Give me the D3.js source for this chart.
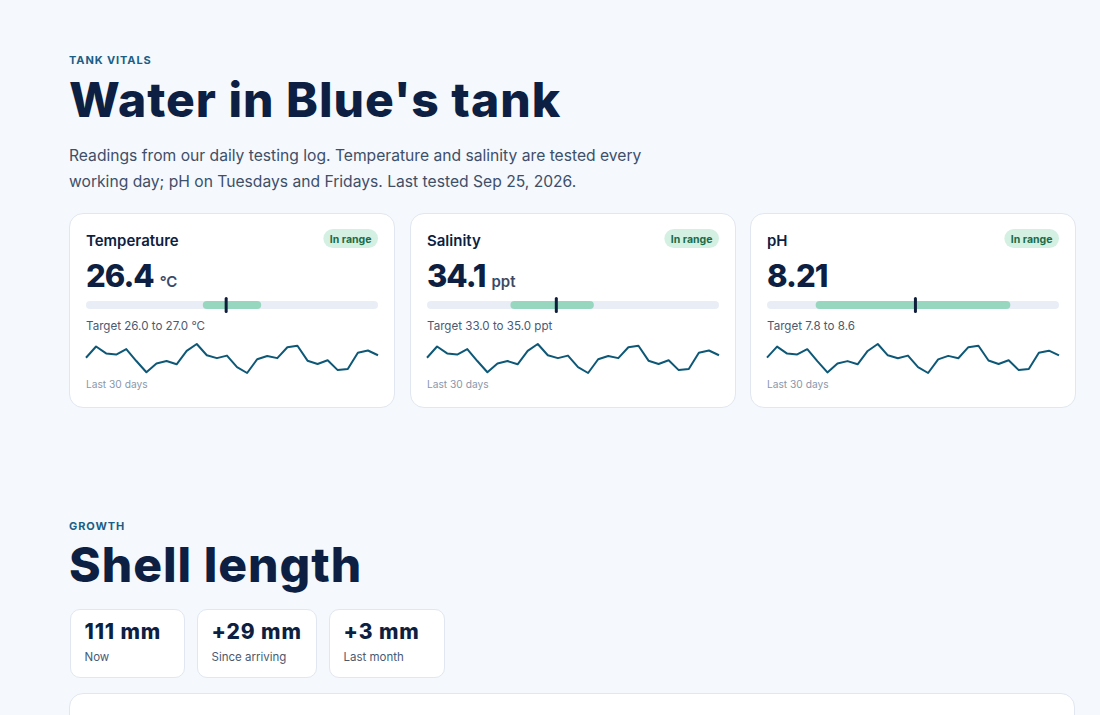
<!DOCTYPE html>
<html>
<head>
<meta charset="utf-8">
<script src="https://cdn.jsdelivr.net/npm/d3@7"></script>
<style>
  body { margin: 0; background: #f5f8fc; font-family: Inter, sans-serif; color: #0d1f42; }
  #page { position: relative; width: 1100px; height: 715px; overflow: hidden; }
  .eyebrow { position: absolute; left: 69px; font-size: 11px; font-weight: 700; letter-spacing: 0.9px; color: #1b5e85; }
  .title { position: absolute; left: 69px; font-size: 48px; font-weight: 800; letter-spacing: 1px; color: #0d1f42; white-space: nowrap; }
  .lede { position: absolute; left: 69px; top: 143px; width: 600px; font-size: 15.65px; line-height: 25.5px; color: #3e4f69; }
  .card { position: absolute; background: #fff; border: 1px solid #e1e7f0; border-radius: 14px; box-sizing: border-box; }
  .card svg { position: absolute; left: -1px; top: -1px; overflow: visible; }
  .stat { position: absolute; background: #fff; border: 1px solid #e1e7f0; border-radius: 10px; box-sizing: border-box; }
  .stat .v { position: absolute; left: 14px; top: 9px; font-size: 21px; font-weight: 800; letter-spacing: 0.9px; white-space: nowrap; }
  .stat .l { position: absolute; left: 14px; top: 40px; font-size: 11.5px; color: #4a5a72; white-space: nowrap; }
</style>
</head>
<body>
<div id="page"></div>
<script>
// vitals
const metrics = ['Temperature', 'Salinity', 'pH']
const units = ['°C', 'ppt', '']
const current = [26.4, 34.1, 8.21]
const decimals = [1, 1, 2]
const targetLow = [26.0, 33.0, 7.8]
const targetHigh = [27.0, 35.0, 8.6]
const scaleMin = [24, 31, 7.6]
const scaleMax = [29, 38, 8.8]
const status = ['In range', 'In range', 'In range']

// last 30 days of readings
const tempLog = [26.32, 26.63, 26.44, 26.41, 26.56, 26.23, 25.92, 26.16, 26.23, 26.14,
  26.51, 26.70, 26.39, 26.31, 26.38, 26.06, 25.90, 26.28, 26.37, 26.31,
  26.61, 26.65, 26.24, 26.15, 26.25, 25.98, 26.01, 26.46, 26.52, 26.39]
const salinityLog = [34.02, 34.33, 34.14, 34.11, 34.26, 33.93, 33.62, 33.86, 33.93, 33.84,
  34.21, 34.40, 34.09, 34.01, 34.08, 33.76, 33.60, 33.98, 34.07, 34.01,
  34.31, 34.35, 33.94, 33.85, 33.95, 33.68, 33.71, 34.16, 34.22, 34.09]
const phLog = [8.196, 8.272, 8.224, 8.218, 8.254, 8.172, 8.094, 8.156, 8.172, 8.150,
  8.242, 8.290, 8.212, 8.192, 8.210, 8.130, 8.090, 8.184, 8.208, 8.192,
  8.268, 8.278, 8.176, 8.152, 8.178, 8.110, 8.118, 8.230, 8.244, 8.212]
const logs = [tempLog, salinityLog, phLog]

// growth
const growthValues = ['111 mm', '+29 mm', '+3 mm']
const growthLabels = ['Now', 'Since arriving', 'Last month']

const page = d3.select('#page')

page.append('div').attr('class', 'eyebrow').style('top', '53px').text('TANK VITALS')
page.append('div').attr('class', 'title').style('top', '70px').text("Water in Blue's tank")
page.append('div').attr('class', 'lede')
  .text('Readings from our daily testing log. Temperature and salinity are tested every working day; pH on Tuesdays and Fridays. Last tested Sep 25, 2026.')

// card geometry
const cardW = 326, cardH = 195, cardGap = 14.5, pad = 17
const innerW = cardW - pad * 2

metrics.forEach((name, i) => {
  const card = page.append('div')
    .attr('class', 'card')
    .style('left', `${69 + i * (cardW + cardGap)}px`)
    .style('top', '212.5px')
    .style('width', `${cardW}px`)
    .style('height', `${cardH}px`)

  const svg = card.append('svg')
    .attr('width', cardW)
    .attr('height', cardH)

  svg.append('text')
    .attr('x', pad).attr('y', 32.5)
    .attr('font-size', 15).attr('font-weight', 600).attr('fill', '#0d1f42')
    .text(name)

  // badge
  const badge = svg.append('g')
  const bt = badge.append('text')
    .attr('y', 29.5)
    .attr('font-size', 10.5).attr('font-weight', 700).attr('fill', '#1c6b47')
    .text(status[i])
  const bw = bt.node().getComputedTextLength() + 13
  badge.insert('rect', 'text')
    .attr('x', pad + innerW - bw).attr('y', 16)
    .attr('width', bw).attr('height', 19).attr('rx', 9.5)
    .attr('fill', '#d4f0e3')
  bt.attr('x', pad + innerW - bw + 6.5)

  // current reading
  const val = svg.append('text')
    .attr('x', pad).attr('y', 73.5)
    .attr('font-size', 31).attr('font-weight', 800).attr('fill', '#0d1f42')
    .attr('letter-spacing', -1)
    .text(current[i].toFixed(decimals[i]))
  const vw = val.node().getComputedTextLength()
  svg.append('text')
    .attr('x', pad + vw + 6).attr('y', 73.5)
    .attr('font-size', 15).attr('font-weight', 600).attr('fill', '#3a4a66')
    .text(units[i])

  // range bar
  const x = d3.scaleLinear().domain([scaleMin[i], scaleMax[i]]).range([pad, pad + innerW])
  svg.append('rect')
    .attr('x', x(scaleMin[i])).attr('y', 88)
    .attr('width', x(scaleMax[i]) - x(scaleMin[i])).attr('height', 8).attr('rx', 4)
    .attr('fill', '#e9edf5')
  svg.append('rect')
    .attr('x', x(targetLow[i])).attr('y', 88)
    .attr('width', x(targetHigh[i]) - x(targetLow[i])).attr('height', 8).attr('rx', 4)
    .attr('fill', '#98d7bf')
  svg.append('rect')
    .attr('x', x(current[i]) - 1.5).attr('y', 84)
    .attr('width', 3).attr('height', 16).attr('rx', 1.5)
    .attr('fill', '#0f1e3c')

  const fmt = d3.format('.1f')
  svg.append('text')
    .attr('x', pad).attr('y', 117)
    .attr('font-size', 11.6).attr('fill', '#4a5a72')
    .text(`Target ${fmt(targetLow[i])} to ${fmt(targetHigh[i])}${units[i] ? ' ' + units[i] : ''}`)

  // sparkline
  const sx = d3.scaleLinear().domain([0, logs[i].length - 1]).range([pad, pad + innerW])
  const sy = d3.scaleLinear().domain(d3.extent(logs[i])).range([160, 131])
  svg.append('path')
    .datum(logs[i])
    .attr('fill', 'none')
    .attr('stroke', '#0d5877')
    .attr('stroke-width', 2)
    .attr('stroke-linejoin', 'round')
    .attr('d', d3.line().x((d, j) => sx(j)).y(d => sy(d)))

  svg.append('text')
    .attr('x', pad).attr('y', 174.5)
    .attr('font-size', 10.2).attr('fill', '#8a97ab')
    .text('Last 30 days')
})

page.append('div').attr('class', 'eyebrow').style('top', '519px').text('GROWTH')
page.append('div').attr('class', 'title').style('top', '535px').text('Shell length')

const statLeft = [69.5, 196.5, 328.5]
const statWidth = [115, 120.5, 116]
growthValues.forEach((v, i) => {
  const box = page.append('div')
    .attr('class', 'stat')
    .style('left', `${statLeft[i]}px`)
    .style('top', '609px')
    .style('width', `${statWidth[i]}px`)
    .style('height', '69px')
  box.append('div').attr('class', 'v').text(v)
  box.append('div').attr('class', 'l').text(growthLabels[i])
})

page.append('div')
  .attr('class', 'card')
  .style('left', '69px')
  .style('top', '692.5px')
  .style('width', '1006px')
  .style('height', '80px')
</script>
</body>
</html>
